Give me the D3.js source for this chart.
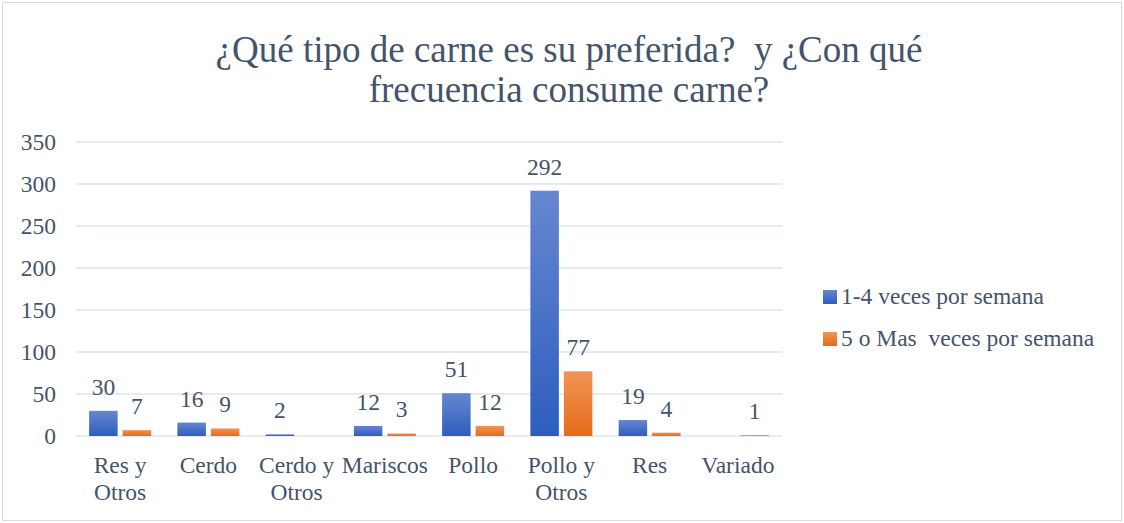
<!DOCTYPE html>
<html>
<head>
<meta charset="utf-8">
<script src="https://cdn.jsdelivr.net/npm/d3@7"></script>
<style>
  body { margin: 0; background: #fff; }
  text { font-family: "Liberation Serif", "Times New Roman", serif; fill: #44546a; white-space: pre; }
</style>
</head>
<body>
<script>
(function () {
  "use strict";
  var w = 1124,
      h = 523;

  var categories = ["Res y Otros", "Cerdo", "Cerdo y Otros", "Mariscos", "Pollo", "Pollo y Otros", "Res", "Variado"];
  var labelLines = [["Res y", "Otros"], ["Cerdo"], ["Cerdo y", "Otros"], ["Mariscos"], ["Pollo"], ["Pollo y", "Otros"], ["Res"], ["Variado"]];
  var seriesNames = ["1-4 veces por semana", "5 o Mas  veces por semana"];
  var low = [30, 16, 2, 12, 51, 292, 19, null];
  var high = [7, 9, null, 3, 12, 77, 4, 1];
  var yTicks = [0, 50, 100, 150, 200, 250, 300, 350];

  var margin = {left: 76, right: 342, top: 142, bottom: 87};

  var svg = d3.select("body")
              .append("svg")
              .attr("width", w)
              .attr("height", h);

  svg.append("rect")
     .attr("x", 2.5).attr("y", 2.5)
     .attr("width", w - 5).attr("height", h - 5)
     .attr("fill", "#fff")
     .attr("stroke", "#d9d9d9");

  var defs = svg.append("defs");
  var grads = [["gBlue", "#6687d0", "#2d5ebf"], ["gOrange", "#f19458", "#e56b16"]];
  grads.forEach(function (g) {
    var lg = defs.append("linearGradient")
                 .attr("id", g[0])
                 .attr("x1", 0).attr("y1", 0).attr("x2", 0).attr("y2", 1);
    lg.append("stop").attr("offset", "0%").attr("stop-color", g[1]);
    lg.append("stop").attr("offset", "100%").attr("stop-color", g[2]);
  });

  var x = d3.scaleBand()
            .domain(categories)
            .range([margin.left, w - margin.right]);

  var y = d3.scaleLinear()
            .domain([0, 350])
            .range([h - margin.bottom, margin.top]);

  // title
  var title = svg.append("text")
                 .attr("text-anchor", "middle")
                 .style("font-size", "37px");
  title.append("tspan").attr("x", 569).attr("y", 62).text("¿Qué tipo de carne es su preferida?  y ¿Con qué");
  title.append("tspan").attr("x", 569).attr("y", 102).text("frecuencia consume carne?");

  // gridlines
  svg.append("g")
     .selectAll("line")
     .data(yTicks)
     .enter()
     .append("line")
     .attr("x1", margin.left)
     .attr("x2", w - margin.right)
     .attr("y1", d => y(d))
     .attr("y2", d => y(d))
     .attr("stroke", "#dfe3e9")
     .attr("stroke-width", 1.5);

  // y axis labels
  svg.append("g")
     .selectAll("text")
     .data(yTicks)
     .enter()
     .append("text")
     .attr("x", 56)
     .attr("y", d => y(d) + 8)
     .attr("text-anchor", "end")
     .style("font-size", "23.5px")
     .text(d => d);

  var bw = 28.5, gap = 5;
  var series = [low, high];
  var fills = ["url(#gBlue)", "url(#gOrange)"];

  series.forEach(function (vals, si) {
    var offset = x.bandwidth() / 2 - (bw * 2 + gap) / 2 + si * (bw + gap);
    var rows = categories.map((c, i) => ({c: c, v: vals[i]})).filter(d => d.v !== null);

    svg.append("g")
       .selectAll("rect")
       .data(rows)
       .enter()
       .append("rect")
       .attr("x", d => x(d.c) + offset)
       .attr("y", d => y(d.v))
       .attr("width", bw)
       .attr("height", d => y(0) - y(d.v))
       .attr("fill", fills[si]);

    svg.append("g")
       .selectAll("text")
       .data(rows)
       .enter()
       .append("text")
       .attr("x", d => x(d.c) + offset + bw / 2)
       .attr("y", d => y(d.v) - 16)
       .attr("text-anchor", "middle")
       .style("font-size", "23.5px")
       .text(d => d.v);
  });

  // x labels
  var xl = svg.append("g")
              .selectAll("text")
              .data(categories)
              .enter()
              .append("text")
              .attr("text-anchor", "middle")
              .style("font-size", "23.5px");
  xl.each(function (c, i) {
    var t = d3.select(this);
    labelLines[i].forEach(function (line, k) {
      t.append("tspan")
       .attr("x", x(c) + x.bandwidth() / 2)
       .attr("y", 473 + k * 27)
       .text(line);
    });
  });

  // legend
  var lg = svg.append("g")
              .selectAll("g")
              .data(seriesNames)
              .enter()
              .append("g")
              .attr("transform", (d, i) => "translate(823," + (290 + i * 42) + ")");
  lg.append("rect")
    .attr("width", 14).attr("height", 14)
    .attr("fill", (d, i) => fills[i]);
  lg.append("text")
    .attr("x", 18)
    .attr("y", 14)
    .style("font-size", "23.5px")
    .text(d => d);
})();
</script>
</body>
</html>
